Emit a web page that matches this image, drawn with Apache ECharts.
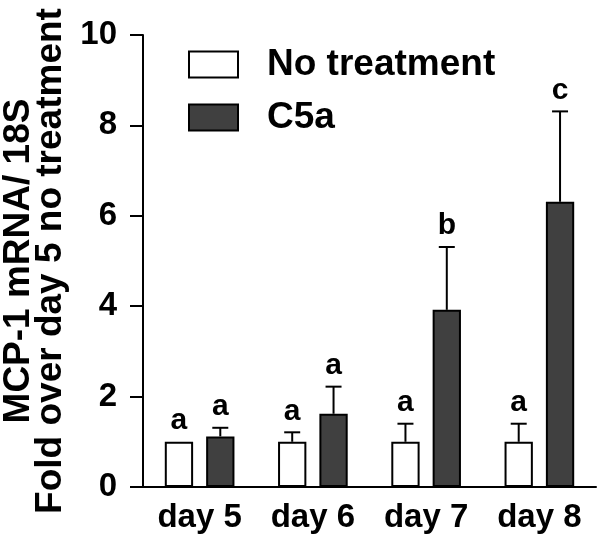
<!DOCTYPE html>
<html>
<head>
<meta charset="utf-8">
<script src="https://cdn.jsdelivr.net/npm/echarts@6/dist/echarts.min.js"></script>
<style>html,body{margin:0;padding:0;background:#fff;}#c{width:600px;height:534px;}</style>
</head>
<body>
<div id="c"></div>
<script>
var categories = ['day 5', 'day 6', 'day 7', 'day 8'];
var noTreatment = [1.0, 1.0, 1.0, 1.0];
var noTreatmentErr = [0, 0.21, 0.4, 0.4];
var noTreatmentLetters = ['a', 'a', 'a', 'a'];
var c5a = [1.12, 1.62, 3.92, 6.31];
var c5aErr = [0.19, 0.6, 1.39, 2.0];
var c5aLetters = ['a', 'a', 'b', 'c'];
var yTicks = [0, 2, 4, 6, 8, 10];
var yTitle = ['MCP-1 mRNA/ 18S', 'Fold over day 5 no treatment'];

var FONT = '"Liberation Sans", Arial, sans-serif';
var BAR_W = 0.25, BAR_GAP = 0.46;

function errData(vals, errs) {
  return vals.map(function (v, i) { return [i, v, errs[i]]; });
}

function makeErr(name, vals, errs, letters, side) {
  return {
    type: 'custom',
    name: name + ' err',
    z: 5,
    silent: true,
    data: errData(vals, errs),
    encode: { x: 0, y: 1 },
    renderItem: function (params, api) {
      var idx = api.value(0), v = api.value(1), e = api.value(2);
      var band = api.size([1, 0])[0];
      var off = side * band * BAR_W * (1 + BAR_GAP) / 2;
      var top = api.coord([idx, v]);
      var cap = api.coord([idx, v + e]);
      var x = top[0] + off;
      var children = [];
      if (e > 0) {
        children.push({ type: 'line', shape: { x1: x, y1: top[1], x2: x, y2: cap[1] },
          style: { stroke: '#000', lineWidth: 2 } });
        children.push({ type: 'line', shape: { x1: x - 8, y1: cap[1], x2: x + 8, y2: cap[1] },
          style: { stroke: '#000', lineWidth: 2 } });
      }
      children.push({ type: 'text', x: x, y: cap[1] - 21, style: { text: letters[params.dataIndex],
        fontSize: 30, fontWeight: 'bold', fontFamily: FONT,
        align: 'center', verticalAlign: 'middle', textAlign: 'center', textVerticalAlign: 'middle', fill: '#000' } });
      return { type: 'group', children: children };
    }
  };
}

var chart = echarts.init(document.getElementById('c'));
chart.setOption({
  animation: false,
  backgroundColor: '#fff',
  grid: { left: 143, right: 4, top: 35, bottom: 46 },
  legend: {
    data: ['No treatment', 'C5a'],
    orient: 'vertical',
    icon: 'rect',
    left: 183, top: 41,
    itemWidth: 49, itemHeight: 26, itemGap: 16,
    itemStyle: { borderColor: '#000', borderWidth: 2 },
    textStyle: { fontFamily: FONT, fontWeight: 'bold', fontSize: 37, color: '#000', lineHeight: 26, padding: [0, 0, 0, 24] },
    selectedMode: false
  },
  xAxis: {
    type: 'category',
    data: categories,
    axisLine: { lineStyle: { color: '#000', width: 2 } },
    axisTick: { show: false },
    axisLabel: { fontFamily: FONT, fontWeight: 'bold', fontSize: 33, color: '#000', margin: 14 }
  },
  yAxis: {
    type: 'value',
    min: 0, max: 10, interval: 2,
    splitLine: { show: false },
    axisLine: { show: true, lineStyle: { color: '#000', width: 2 } },
    axisTick: { show: true, length: 13, lineStyle: { color: '#000', width: 2 } },
    axisLabel: { fontFamily: FONT, fontWeight: 'bold', fontSize: 33, color: '#000', margin: 26,
      formatter: function (v) { return yTicks.indexOf(v) >= 0 ? String(v) : ''; } }
  },
  graphic: [{
    type: 'text', x: 35, y: 261, rotation: Math.PI / 2,
    style: { text: yTitle.join('\n'), font: 'bold 37px ' + FONT, lineHeight: 32,
      textAlign: 'center', textVerticalAlign: 'middle', fill: '#000' }
  }],
  series: [
    { type: 'bar', name: 'No treatment', data: noTreatment, barWidth: (BAR_W * 100) + '%', barGap: (BAR_GAP * 100) + '%',
      itemStyle: { color: '#fff', borderColor: '#000', borderWidth: 2 } },
    { type: 'bar', name: 'C5a', data: c5a, barWidth: (BAR_W * 100) + '%', barGap: (BAR_GAP * 100) + '%',
      itemStyle: { color: '#404040', borderColor: '#000', borderWidth: 2 } },
    makeErr('No treatment', noTreatment, noTreatmentErr, noTreatmentLetters, -1),
    makeErr('C5a', c5a, c5aErr, c5aLetters, 1)
  ]
});
</script>
</body>
</html>
